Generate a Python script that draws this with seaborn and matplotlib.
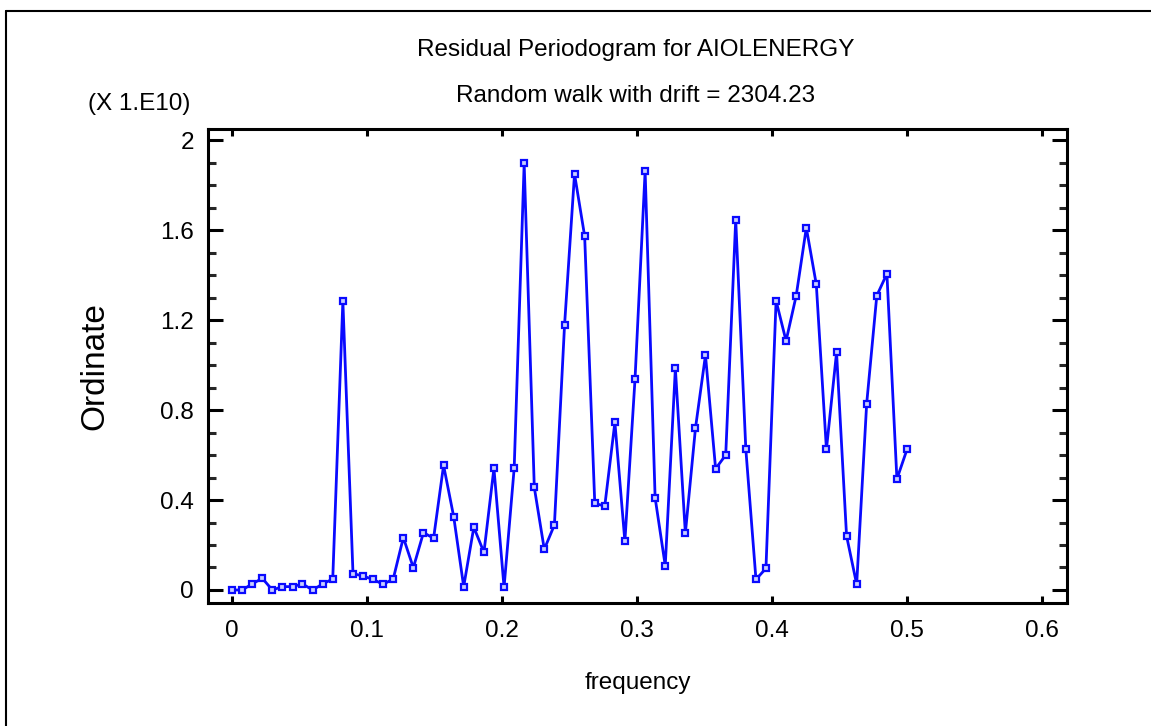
import numpy as np
import pandas as pd
import seaborn as sns
import matplotlib.pyplot as plt
from matplotlib.lines import Line2D
from matplotlib.ticker import MultipleLocator, FixedLocator

sns.set_style("ticks")
plt.rcParams["font.family"] = ["Liberation Sans Narrow", "Liberation Sans", "DejaVu Sans"]
plt.rcParams["text.color"] = "black"
plt.rcParams["axes.labelcolor"] = "black"

# frequencies k/134, k = 0..67
frequency = [0.0000, 0.0075, 0.0149, 0.0224, 0.0299, 0.0373, 0.0448, 0.0522, 0.0597, 0.0672,
             0.0746, 0.0821, 0.0896, 0.0970, 0.1045, 0.1119, 0.1194, 0.1269, 0.1343, 0.1418,
             0.1493, 0.1567, 0.1642, 0.1716, 0.1791, 0.1866, 0.1940, 0.2015, 0.2090, 0.2164,
             0.2239, 0.2313, 0.2388, 0.2463, 0.2537, 0.2612, 0.2687, 0.2761, 0.2836, 0.2910,
             0.2985, 0.3060, 0.3134, 0.3209, 0.3284, 0.3358, 0.3433, 0.3507, 0.3582, 0.3657,
             0.3731, 0.3806, 0.3881, 0.3955, 0.4030, 0.4104, 0.4179, 0.4254, 0.4328, 0.4403,
             0.4478, 0.4552, 0.4627, 0.4701, 0.4776, 0.4851, 0.4925, 0.5000]

# ordinate in units of 1e10
ordinate = [0.000, 0.000, 0.027, 0.052, 0.000, 0.015, 0.015, 0.027, 0.000, 0.027,
            0.049, 1.284, 0.073, 0.062, 0.047, 0.025, 0.049, 0.233, 0.099, 0.255,
            0.230, 0.554, 0.326, 0.015, 0.279, 0.167, 0.541, 0.012, 0.541, 1.896,
            0.456, 0.181, 0.289, 1.176, 1.849, 1.573, 0.385, 0.373, 0.745, 0.216,
            0.936, 1.862, 0.410, 0.108, 0.985, 0.252, 0.720, 1.044, 0.539, 0.600,
            1.646, 0.625, 0.047, 0.096, 1.286, 1.107, 1.308, 1.610, 1.358, 0.625,
            1.056, 0.241, 0.025, 0.828, 1.308, 1.406, 0.493, 0.625]

xticks = [0, 0.1, 0.2, 0.3, 0.4, 0.5, 0.6]
xtick_labels = ["0", "0.1", "0.2", "0.3", "0.4", "0.5", "0.6"]
yticks = [0, 0.4, 0.8, 1.2, 1.6, 2.0]
ytick_labels = ["0", "0.4", "0.8", "1.2", "1.6", "2"]

df = pd.DataFrame({"frequency": frequency, "ordinate": ordinate})

W, H = 1151, 726
fig = plt.figure(figsize=(W / 100, H / 100), dpi=100)
ax = fig.add_axes([208 / W, 1 - 603 / H, (1067 - 208) / W, (603 - 129) / H])

sns.lineplot(data=df, x="frequency", y="ordinate", ax=ax, color="#0a0aff",
             linewidth=2.0, marker="s", markersize=4.8, markerfacecolor="#c8ceff",
             markeredgecolor="#0a0aff", markeredgewidth=1.6)

ax.set_xlim(-0.0178, 0.6185)
ax.set_ylim(-0.0578, 2.049)
ax.xaxis.set_major_locator(FixedLocator(xticks))
ax.set_xticklabels(xtick_labels)
ax.yaxis.set_major_locator(FixedLocator(yticks))
ax.set_yticklabels(ytick_labels)
ax.yaxis.set_minor_locator(MultipleLocator(0.1))

for s in ax.spines.values():
    s.set_linewidth(2.2)
    s.set_color("black")
    s.set_visible(True)

ax.tick_params(axis="y", which="major", direction="in", length=11, width=2.2,
               left=True, right=True, labelsize=17.5, pad=10, colors="black")
ax.tick_params(axis="y", which="minor", direction="in", length=6, width=2.2,
               left=True, right=True)
ax.tick_params(axis="x", which="major", direction="in", length=5, width=2.2,
               bottom=True, top=True, labelsize=17.5, pad=12, colors="black")

ax.set_xlabel("frequency", fontsize=17.5, labelpad=22)
ax.set_ylabel("Ordinate", fontsize=24, labelpad=36)

fig.text(636 / W, 1 - 50 / H, "Residual Periodogram for AIOLENERGY",
         ha="center", va="center", fontsize=17.5)
fig.text(636 / W, 1 - 96 / H, "Random walk with drift = 2304.23",
         ha="center", va="center", fontsize=17.5)
fig.text(139 / W, 1 - 104 / H, "(X 1.E10)", ha="center", va="center", fontsize=17.5)

# screenshot frame
fig.add_artist(Line2D([6 / W, 6 / W], [0, 1 - 11 / H], transform=fig.transFigure,
                      color="black", linewidth=1.5))
fig.add_artist(Line2D([6 / W, 1], [1 - 11 / H, 1 - 11 / H], transform=fig.transFigure,
                      color="black", linewidth=1.5))

fig.savefig("out.png", dpi=100)
